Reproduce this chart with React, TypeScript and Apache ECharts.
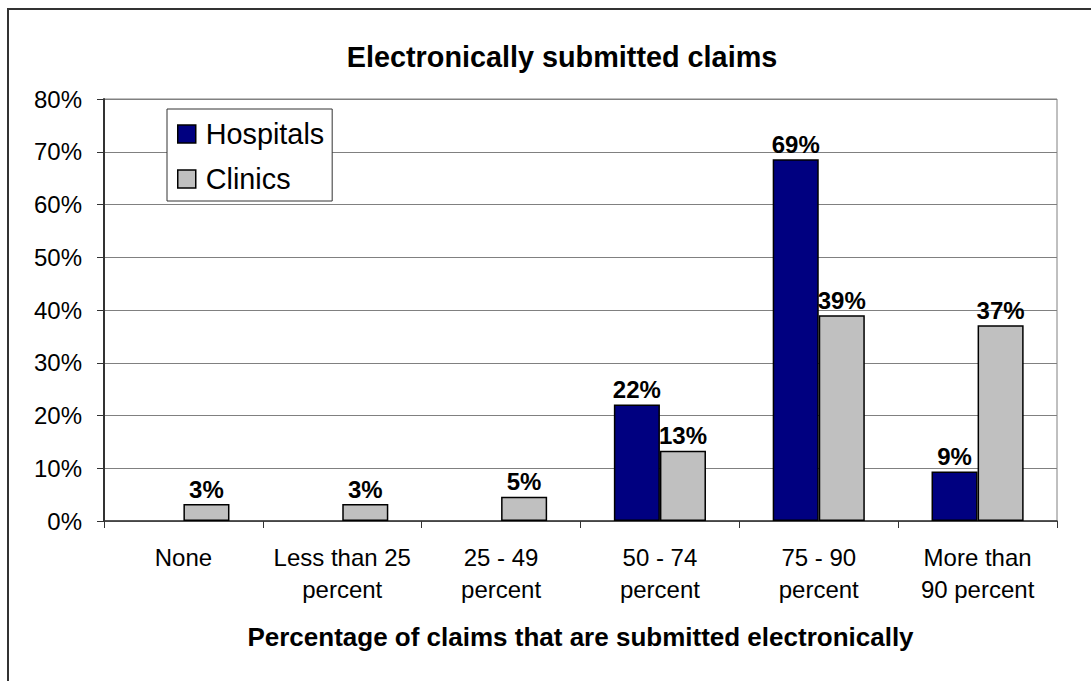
import React, { useEffect, useRef } from "react";
import * as echarts from "echarts";

const categories = [
  "None",
  "Less than 25\npercent",
  "25 - 49\npercent",
  "50 - 74\npercent",
  "75 - 90\npercent",
  "More than\n90 percent",
];
const hospitals = [0, 0, 0, 22.1, 68.6, 9.4];
const clinics = [3.2, 3.2, 4.6, 13.3, 39.0, 37.1];
const yTicks = { min: 0, max: 80, interval: 10 };

const FONT = "'Liberation Sans', Arial, sans-serif";

export default function App() {
  const ref = useRef<HTMLDivElement>(null);
  useEffect(() => {
    if (!ref.current) return;
    const chart = echarts.init(ref.current, undefined, { renderer: "svg" });
    const labelCfg = {
      show: true,
      position: "top",
      distance: 3,
      fontFamily: FONT,
      fontSize: 24,
      fontWeight: "bold",
      color: "#000",
      formatter: (p: any) => (p.value ? Math.round(p.value) + "%" : ""),
    };
    const toItems = (arr: number[]) =>
      arr.map((v) => (v === 0 ? { value: v, itemStyle: { borderWidth: 0 } } : v));
    chart.setOption({
      animation: false,
      backgroundColor: "#fff",
      textStyle: { fontFamily: FONT },
      title: {
        text: "Electronically submitted claims",
        left: 557,
        top: 37,
        textAlign: "center",
        textStyle: { fontFamily: FONT, fontSize: 28.8, fontWeight: "bold", color: "#000" },
      },
      graphic: [
        {
          type: "rect",
          shape: { x: 8, y: 9, width: 1200, height: 800 },
          style: { fill: "none", stroke: "#333", lineWidth: 2 },
          silent: true,
        },
      ],
      legend: {
        orient: "vertical",
        left: 167,
        top: 109,
        padding: [10, 8, 7, 10],
        itemWidth: 18,
        itemHeight: 18,
        itemGap: 15,
        icon: "rect",
        backgroundColor: "#fff",
        borderColor: "#333",
        borderWidth: 1,
        itemStyle: { borderColor: "#000", borderWidth: 1.5 },
        textStyle: { fontFamily: FONT, fontSize: 28.8, color: "#000", lineHeight: 30, padding: [0, 0, 0, 5] },
        data: ["Hospitals", "Clinics"],
      },
      grid: {
        left: 104,
        right: 34,
        top: 99,
        bottom: 160,
        show: true,
        borderColor: "#808080",
        borderWidth: 1,
        backgroundColor: "transparent",
      },
      xAxis: {
        type: "category",
        data: categories,
        name: "Percentage of claims that are submitted electronically",
        nameLocation: "middle",
        nameGap: 103,
        nameTextStyle: { fontFamily: FONT, fontSize: 26, fontWeight: "bold", color: "#000" },
        axisLine: { lineStyle: { color: "#333", width: 1.5 } },
        axisTick: { show: true, length: 7, lineStyle: { color: "#333", width: 1 } },
        axisLabel: {
          interval: 0,
          margin: 20,
          fontFamily: FONT,
          fontSize: 24,
          lineHeight: 32,
          color: "#000",
        },
      },
      yAxis: {
        type: "value",
        min: yTicks.min,
        max: yTicks.max,
        interval: yTicks.interval,
        axisLine: { show: true, lineStyle: { color: "#333", width: 2 } },
        axisTick: { show: true, length: 7, lineStyle: { color: "#333", width: 1 } },
        axisLabel: {
          margin: 22,
          fontFamily: FONT,
          fontSize: 24,
          color: "#000",
          formatter: "{value}%",
        },
        splitLine: { show: true, lineStyle: { color: "#808080", width: 1 } },
      },
      series: [
        {
          name: "Hospitals",
          type: "bar",
          data: toItems(hospitals),
          barGap: "0%",
          barCategoryGap: "42%",
          itemStyle: { color: "#000080", borderColor: "#000", borderWidth: 1.5 },
          label: labelCfg,
        },
        {
          name: "Clinics",
          type: "bar",
          data: toItems(clinics),
          itemStyle: { color: "#C0C0C0", borderColor: "#000", borderWidth: 1.5 },
          label: labelCfg,
        },
      ],
    });
    return () => chart.dispose();
  }, []);
  return (
    <div
      ref={ref}
      style={{ position: "fixed", left: 0, top: 0, width: 1091, height: 681, background: "#fff" }}
    />
  );
}
